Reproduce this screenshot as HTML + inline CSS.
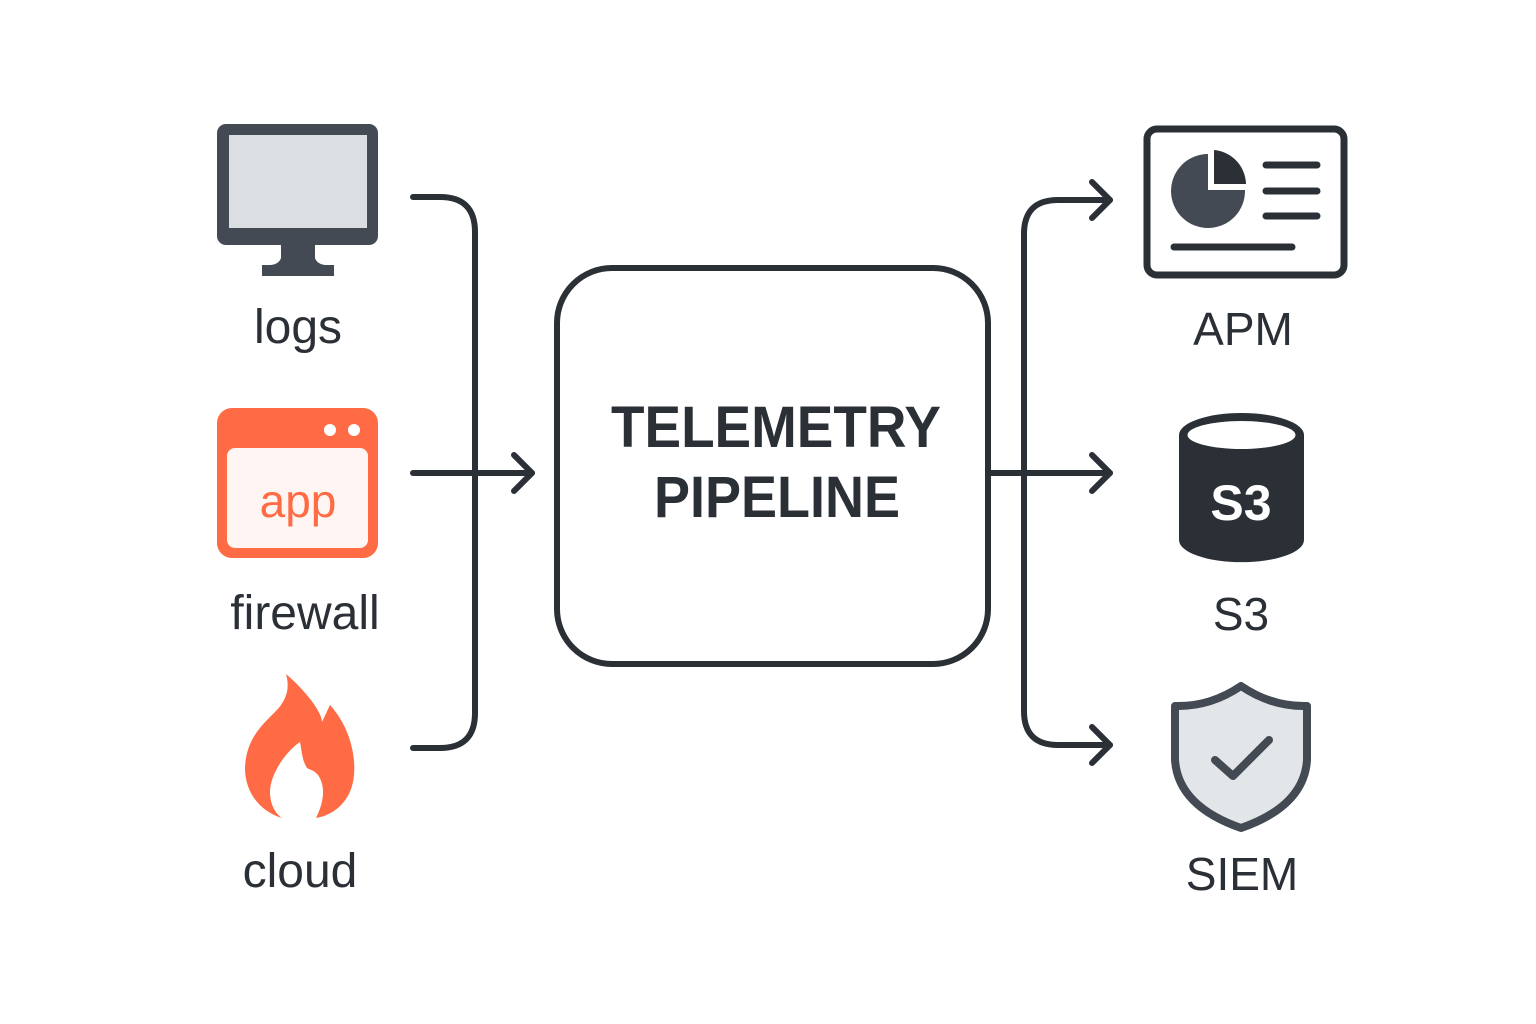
<!DOCTYPE html>
<html><head><meta charset="utf-8"><style>
html,body{margin:0;padding:0;background:#fff;}
svg{display:block;}
text{font-family:"Liberation Sans",sans-serif;}
</style></head><body>
<svg width="1536" height="1024" viewBox="0 0 1536 1024" xmlns="http://www.w3.org/2000/svg">
<rect width="1536" height="1024" fill="#fff"/>
<!-- monitor -->
<rect x="217" y="124" width="161" height="121" rx="9" fill="#434a54"/>
<rect x="229" y="135" width="138" height="93" fill="#dcdfe1"/>
<path d="M281,244 L315,244 L315,258 Q317,264 325,265 L334,265 L334,276 L262,276 L262,265 L271,265 Q279,264 281,258 Z" fill="#434a54"/>
<text x="298" y="343" font-size="48" text-anchor="middle" fill="#2b2f36">logs</text>
<!-- app -->
<rect x="217" y="408" width="161" height="150" rx="15" fill="#ff6b45"/>
<rect x="227" y="448" width="141" height="100" rx="8" fill="#fff5f2"/>
<circle cx="330" cy="430" r="6" fill="#fff"/>
<circle cx="354" cy="430" r="6" fill="#fff"/>
<text x="298" y="517" font-size="46" text-anchor="middle" fill="#ff6b45">app</text>
<text x="305" y="629" font-size="48" text-anchor="middle" fill="#2b2f36">firewall</text>
<!-- flame -->
<path d="M286,674 C305,690 322,712 322,722 L330,705 C348,725 356,752 354,775 C352,800 335,815 316,818 C325,800 325,785 318,775 C314,770 310,770 307,768 C302,760 302,752 300,742 C285,752 270,775 270,792 C270,805 276,814 282,818 C262,812 246,795 245,770 C245,740 262,725 275,712 C287,700 290,688 286,674 Z" fill="#ff6b45"/>
<text x="300" y="887" font-size="48" text-anchor="middle" fill="#2b2f36">cloud</text>
<!-- left connectors -->
<g fill="none" stroke="#2b2f36" stroke-width="6" stroke-linecap="round" stroke-linejoin="round">
<path d="M413,197 L440,197 Q475,197 475,232 L475,713 Q475,748 440,748 L413,748"/>
<path d="M413,473 L532,473"/>
<path d="M514,455 L532,473 L514,491"/>
<rect x="557" y="268" width="431" height="396" rx="55"/>
<path d="M989,473 L1110,473"/>
<path d="M1092,455 L1110,473 L1092,491"/>
<path d="M1110,200 L1058,200 Q1024,200 1024,234 L1024,711 Q1024,745 1058,745 L1110,745"/>
<path d="M1092,182 L1110,200 L1092,218"/>
<path d="M1092,727 L1110,745 L1092,763"/>
</g>
<text x="776" y="447" font-size="58" font-weight="bold" text-anchor="middle" fill="#2b2f36" textLength="330" lengthAdjust="spacingAndGlyphs">TELEMETRY</text>
<text x="777" y="517" font-size="58" font-weight="bold" text-anchor="middle" fill="#2b2f36" textLength="246" lengthAdjust="spacingAndGlyphs">PIPELINE</text>
<!-- APM -->
<rect x="1147" y="129" width="197" height="146" rx="10" fill="#fff" stroke="#2b2f36" stroke-width="7"/>
<path d="M1208,190 L1208,154 A37,37 0 1 0 1245,190 Z" fill="#434a54"/>
<path d="M1214,184 L1214,150 A35,35 0 0 1 1246,184 Z" fill="#2b2f36"/>
<g stroke="#2b2f36" stroke-width="7" stroke-linecap="round">
<path d="M1266,165 L1317,165 M1266,191 L1317,191 M1266,216 L1317,216 M1174,247 L1292,247"/>
</g>
<text x="1243" y="345" font-size="46" text-anchor="middle" fill="#2b2f36">APM</text>
<!-- S3 cylinder -->
<path d="M1179,435 L1179,540 A62,22 0 0 0 1304,540 L1304,435 Z" fill="#2b2f36"/>
<ellipse cx="1241.5" cy="435" rx="62.5" ry="22" fill="#2b2f36"/>
<ellipse cx="1241.5" cy="435" rx="54" ry="14" fill="#fff"/>
<text x="1241" y="520" font-size="50" font-weight="bold" text-anchor="middle" fill="#fff">S3</text>
<text x="1241" y="630" font-size="46" text-anchor="middle" fill="#2b2f36">S3</text>
<!-- shield -->
<path d="M1241,686 Q1210,707 1175,706 L1175,760 Q1178,806 1241,828 Q1304,806 1307,760 L1307,706 Q1272,707 1241,686 Z" fill="#e3e6e8" stroke="#434a54" stroke-width="8" stroke-linejoin="round"/>
<path d="M1215,760 L1233,776 L1269,740" fill="none" stroke="#434a54" stroke-width="8" stroke-linecap="round" stroke-linejoin="round"/>
<text x="1242" y="890" font-size="46" text-anchor="middle" fill="#2b2f36">SIEM</text>
</svg>
</body></html>
